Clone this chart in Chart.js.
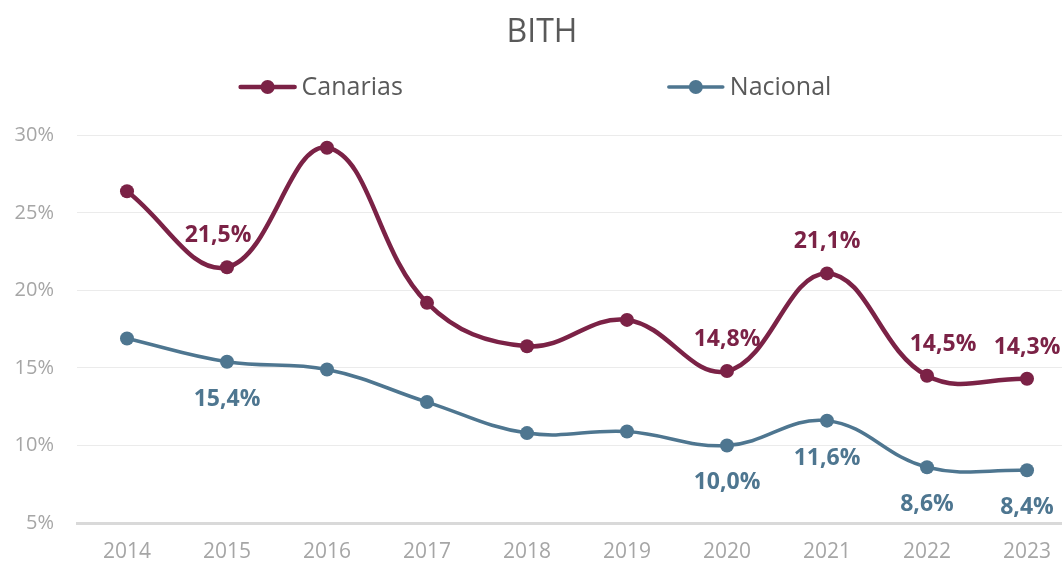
<!DOCTYPE html>
<html>
<head>
<meta charset="utf-8">
<title>BITH</title>
<script src="https://cdn.jsdelivr.net/npm/chart.js@4.4.1/dist/chart.umd.min.js"></script>
<style>
  html, body { margin: 0; padding: 0; background: #fff; overflow: hidden; }
  #wrap { width: 1084px; height: 562px; position: relative; }
</style>
</head>
<body>
<div id="wrap"><canvas id="myChart"></canvas></div>
<script>
'use strict';

// Data

let years = ['2014', '2015', '2016', '2017', '2018', '2019', '2020', '2021', '2022', '2023'];
let canarias = [26.4, 21.5, 29.2, 19.2, 16.4, 18.1, 14.8, 21.1, 14.5, 14.3];
let nacional = [16.9, 15.4, 14.9, 12.8, 10.8, 10.9, 10.0, 11.6, 8.6, 8.4];
let yTicks = [5, 10, 15, 20, 25, 30];

// which points get a value label
let canariasLabelled = [1, 6, 7, 8, 9];
let nacionalLabelled = [1, 6, 7, 8, 9];

// Colors

let canariasColor = '#7b2246';
let nacionalColor = '#4e7690';
let textColor = '#595959';
let tickColor = '#a6a6a6';

function fmt(v) {
  return v.toFixed(1).replace('.', ',') + '%';
}

// Plugins

// legend drawn as line + circle like the original
let lineLegend = {
  id: 'lineLegend',
  afterDraw(chart) {
    let ctx = chart.ctx;
    let items = chart.data.datasets;
    let lineLen = 58;
    let gapText = 5;
    let gapItems = 264;
    let y = 87;
    ctx.save();
    ctx.font = '25px "Open Sans"';
    let widths = items.map(ds => lineLen + gapText + ctx.measureText(ds.label).width);
    let total = widths.reduce((a, b) => a + b, 0) + gapItems * (items.length - 1);
    // center on the visible 1062px window
    let x = (1062 - total) / 2 + 4;
    for (let i = 0; i < items.length; i++) {
      let ds = items[i];
      ctx.strokeStyle = ds.borderColor;
      ctx.lineWidth = ds.borderWidth;
      ctx.lineCap = 'round';
      ctx.beginPath();
      ctx.moveTo(x + 2, y);
      ctx.lineTo(x + lineLen - 2, y);
      ctx.stroke();
      ctx.fillStyle = ds.borderColor;
      ctx.beginPath();
      ctx.arc(x + lineLen / 2, y, 7, 0, Math.PI * 2);
      ctx.fill();
      ctx.fillStyle = textColor;
      ctx.textBaseline = 'middle';
      ctx.textAlign = 'left';
      ctx.fillText(ds.label, x + lineLen + gapText, y + 1);
      x += widths[i] + gapItems;
    }
    ctx.restore();
  }
};

// value labels next to the points
let valueLabels = {
  id: 'valueLabels',
  afterDatasetsDraw(chart) {
    let ctx = chart.ctx;
    let setup = [
      { idx: canariasLabelled, dy: -25, dx: { 1: -9, 8: 16 } },
      { idx: nacionalLabelled, dy: 44, dx: {} }
    ];
    ctx.save();
    ctx.font = 'bold 23px "Open Sans"';
    ctx.textAlign = 'center';
    ctx.textBaseline = 'alphabetic';
    chart.data.datasets.forEach((ds, d) => {
      let meta = chart.getDatasetMeta(d);
      ctx.fillStyle = ds.borderColor;
      setup[d].idx.forEach(i => {
        let pt = meta.data[i];
        let dx = setup[d].dx[i] || 0;
        ctx.fillText(fmt(ds.data[i]), pt.x + dx, pt.y + setup[d].dy);
      });
    });
    ctx.restore();
  }
};

// Chart

let ctx = document.getElementById('myChart').getContext('2d');
const myChart = new Chart(ctx, {
  type: 'line',
  data: {
    labels: years,
    datasets: [{
      label: 'Canarias',
      data: canarias,
      borderColor: canariasColor,
      backgroundColor: canariasColor,
      borderWidth: 4.5,
      pointRadius: 7,
      pointBorderWidth: 0,
      tension: 0.4
    },
    {
      label: 'Nacional',
      data: nacional,
      borderColor: nacionalColor,
      backgroundColor: nacionalColor,
      borderWidth: 3.5,
      pointRadius: 7,
      pointBorderWidth: 0,
      tension: 0.4
    }]
  },
  options: {
    responsive: true,
    maintainAspectRatio: false,
    animation: false,
    layout: {
      padding: 0
    },
    plugins: {
      legend: { display: false },
      tooltip: { enabled: false },
      title: {
        display: true,
        text: 'BITH',
        color: textColor,
        font: { family: '"Open Sans"', size: 32, weight: 'normal' },
        padding: { top: 14, bottom: 83 }
      }
    },
    scales: {
      x: {
        offset: true,
        grid: { display: false, drawTicks: false },
        border: { display: true, color: '#d9d9d9', width: 3 },
        ticks: {
          color: tickColor,
          padding: 16,
          font: { family: '"Open Sans"', size: 21 }
        },
        afterFit(scale) {
          scale.height = 39;
        }
      },
      y: {
        min: yTicks[0],
        max: yTicks[yTicks.length - 1],
        afterBuildTicks(scale) {
          scale.ticks = yTicks.map(v => ({ value: v }));
        },
        grid: { color: '#ebebeb', lineWidth: 1, drawTicks: false },
        border: { display: false },
        ticks: {
          color: tickColor,
          padding: 23,
          font: { family: '"Open Sans"', size: 20 },
          callback: v => v + '%'
        },
        afterFit(scale) {
          scale.width = 77;
        }
      }
    }
  },
  plugins: [lineLegend, valueLabels]
});
</script>
</body>
</html>
